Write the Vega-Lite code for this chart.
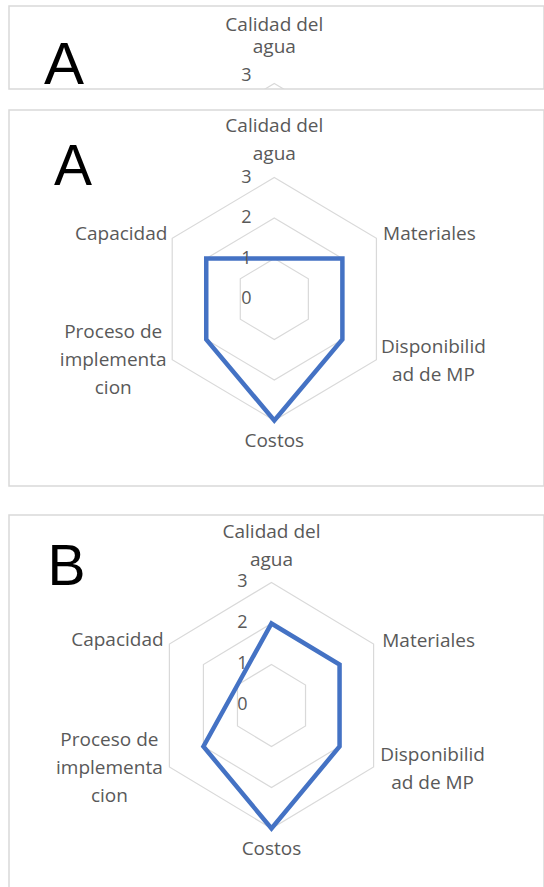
{
  "$schema": "https://vega.github.io/schema/vega-lite/v6.json",
  "padding": {"left": 8, "top": 5, "right": 0, "bottom": 0},
  "background": "white",
  "config": {
    "view": {"stroke": "#d9d9d9", "strokeWidth": 1.5},
    "text": {"font": "Open Sans", "fontSize": 19, "color": "#595959", "align": "center", "baseline": "middle", "lineHeight": 28, "lineBreak": "\n"}
  },
  "datasets": {
    "A": [
      {"orden": 0, "criterio": "Calidad del\nagua", "valor": 1},
      {"orden": 1, "criterio": "Materiales", "valor": 2},
      {"orden": 2, "criterio": "Disponibilid\nad de MP", "valor": 2},
      {"orden": 3, "criterio": "Costos", "valor": 3},
      {"orden": 4, "criterio": "Proceso de\nimplementa\ncion", "valor": 2},
      {"orden": 5, "criterio": "Capacidad", "valor": 2}
    ],
    "B": [
      {"orden": 0, "criterio": "Calidad del\nagua", "valor": 2},
      {"orden": 1, "criterio": "Materiales", "valor": 2},
      {"orden": 2, "criterio": "Disponibilid\nad de MP", "valor": 2},
      {"orden": 3, "criterio": "Costos", "valor": 3},
      {"orden": 4, "criterio": "Proceso de\nimplementa\ncion", "valor": 2},
      {"orden": 5, "criterio": "Capacidad", "valor": 1}
    ],
    "niveles": [
      {"nivel": 0, "orden": [0, 1, 2, 3, 4, 5]},
      {"nivel": 1, "orden": [0, 1, 2, 3, 4, 5]},
      {"nivel": 2, "orden": [0, 1, 2, 3, 4, 5]},
      {"nivel": 3, "orden": [0, 1, 2, 3, 4, 5]}
    ]
  },
  "spacing": 12,
  "vconcat": [
    {
      "width": 535,
      "height": 83,
      "encoding": {
        "x": {"field": "px", "type": "quantitative", "scale": {"domain": [-6.751, 6.862], "nice": false, "zero": false}, "axis": null},
        "y": {"field": "py", "type": "quantitative", "scale": {"domain": [2.864, 4.914], "nice": false, "zero": false}, "axis": null}
      },
      "layer": [
        {
          "data": {"name": "niveles"},
          "transform": [
            {"flatten": ["orden"]},
            {"filter": "datum.nivel > 0"},
            {"calculate": "datum.nivel*sin(datum.orden*PI/3)", "as": "px"},
            {"calculate": "datum.nivel*cos(datum.orden*PI/3)", "as": "py"}
          ],
          "mark": {"type": "line", "interpolate": "linear-closed", "stroke": "#d9d9d9", "strokeWidth": 1.2, "clip": true},
          "encoding": {"detail": {"field": "nivel"}, "order": {"field": "orden"}}
        },
        {
          "data": {"name": "niveles"},
          "transform": [
            {"flatten": ["orden"]},
            {"filter": "datum.orden == 0 && datum.nivel == 3"},
            {"calculate": "datum.nivel*sin(datum.orden*PI/3)", "as": "px"},
            {"calculate": "datum.nivel*cos(datum.orden*PI/3)", "as": "py"}
          ],
          "mark": {"type": "text", "dx": -28, "dy": -7, "fontSize": 18},
          "encoding": {"text": {"field": "nivel", "type": "quantitative", "format": "d"}}
        },
        {
          "data": {"name": "A"},
          "transform": [
            {"filter": "datum.orden == 0"},
            {"calculate": "3*sin(datum.orden*PI/3)", "as": "px"},
            {"calculate": "3*cos(datum.orden*PI/3)", "as": "py"}
          ],
          "mark": {"type": "text", "dy": -58, "lineHeight": 22},
          "encoding": {"text": {"field": "criterio"}}
        },
        {
          "data": {"values": [{"panel": "A"}]},
          "transform": [{"calculate": "-5.86", "as": "px"}, {"calculate": "2.99", "as": "py"}],
          "mark": {"type": "text", "font": "Liberation Sans", "fontSize": 60, "color": "#000000", "align": "left", "baseline": "alphabetic"},
          "encoding": {"text": {"field": "panel"}}
        }
      ]
    },
    {
      "spacing": 27,
      "vconcat": [
        {
          "width": 535,
          "height": 376,
          "encoding": {
            "x": {"field": "px", "type": "quantitative", "scale": {"domain": [-6.751, 6.862], "nice": false, "zero": false}, "axis": null},
            "y": {"field": "py", "type": "quantitative", "scale": {"domain": [-4.617, 4.667], "nice": false, "zero": false}, "axis": null}
          },
          "layer": [
            {
              "data": {"name": "niveles"},
              "transform": [
                {"flatten": ["orden"]},
                {"filter": "datum.nivel > 0"},
                {"calculate": "datum.nivel*sin(datum.orden*PI/3)", "as": "px"},
                {"calculate": "datum.nivel*cos(datum.orden*PI/3)", "as": "py"}
              ],
              "mark": {"type": "line", "interpolate": "linear-closed", "stroke": "#d9d9d9", "strokeWidth": 1.2},
              "encoding": {"detail": {"field": "nivel"}, "order": {"field": "orden"}}
            },
            {
              "data": {"name": "A"},
              "transform": [
                {"calculate": "datum.valor*sin(datum.orden*PI/3)", "as": "px"},
                {"calculate": "datum.valor*cos(datum.orden*PI/3)", "as": "py"}
              ],
              "mark": {"type": "line", "interpolate": "linear-closed", "stroke": "#4472C4", "strokeWidth": 4.5, "strokeJoin": "miter"},
              "encoding": {"order": {"field": "orden"}}
            },
            {
              "data": {"name": "niveles"},
              "transform": [
                {"flatten": ["orden"]},
                {"filter": "datum.orden == 0"},
                {"calculate": "datum.nivel*sin(datum.orden*PI/3)", "as": "px"},
                {"calculate": "datum.nivel*cos(datum.orden*PI/3)", "as": "py"}
              ],
              "mark": {"type": "text", "dx": -28, "fontSize": 18},
              "encoding": {"text": {"field": "nivel", "type": "quantitative", "format": "d"}}
            },
            {
              "data": {"name": "A"},
              "transform": [{"filter": "datum.orden == 0"}, {"calculate": "3*sin(datum.orden*PI/3)", "as": "px"}, {"calculate": "3*cos(datum.orden*PI/3)", "as": "py"}],
              "mark": {"type": "text", "dy": -51.5},
              "encoding": {"text": {"field": "criterio"}}
            },
            {
              "data": {"name": "A"},
              "transform": [{"filter": "datum.orden == 1"}, {"calculate": "3*sin(datum.orden*PI/3)", "as": "px"}, {"calculate": "3*cos(datum.orden*PI/3)", "as": "py"}],
              "mark": {"type": "text", "dx": 53, "dy": -4},
              "encoding": {"text": {"field": "criterio"}}
            },
            {
              "data": {"name": "A"},
              "transform": [{"filter": "datum.orden == 2"}, {"calculate": "3*sin(datum.orden*PI/3)", "as": "px"}, {"calculate": "3*cos(datum.orden*PI/3)", "as": "py"}],
              "mark": {"type": "text", "dx": 57, "dy": -13},
              "encoding": {"text": {"field": "criterio"}}
            },
            {
              "data": {"name": "A"},
              "transform": [{"filter": "datum.orden == 3"}, {"calculate": "3*sin(datum.orden*PI/3)", "as": "px"}, {"calculate": "3*cos(datum.orden*PI/3)", "as": "py"}],
              "mark": {"type": "text", "dy": 20},
              "encoding": {"text": {"field": "criterio"}}
            },
            {
              "data": {"name": "A"},
              "transform": [{"filter": "datum.orden == 4"}, {"calculate": "3*sin(datum.orden*PI/3)", "as": "px"}, {"calculate": "3*cos(datum.orden*PI/3)", "as": "py"}],
              "mark": {"type": "text", "dx": -59, "dy": -27.5},
              "encoding": {"text": {"field": "criterio"}}
            },
            {
              "data": {"name": "A"},
              "transform": [{"filter": "datum.orden == 5"}, {"calculate": "3*sin(datum.orden*PI/3)", "as": "px"}, {"calculate": "3*cos(datum.orden*PI/3)", "as": "py"}],
              "mark": {"type": "text", "dx": -51, "dy": -4},
              "encoding": {"text": {"field": "criterio"}}
            },
            {
              "data": {"values": [{"panel": "A"}]},
              "transform": [{"calculate": "-5.606", "as": "px"}, {"calculate": "2.815", "as": "py"}],
              "mark": {"type": "text", "font": "Liberation Sans", "fontSize": 57, "color": "#000000", "align": "left", "baseline": "alphabetic"},
              "encoding": {"text": {"field": "panel"}}
            }
          ]
        },
        {
          "width": 535,
          "height": 377,
          "encoding": {
            "x": {"field": "px", "type": "quantitative", "scale": {"domain": [-6.679, 6.934], "nice": false, "zero": false}, "axis": null},
            "y": {"field": "py", "type": "quantitative", "scale": {"domain": [-4.549, 4.646], "nice": false, "zero": false}, "axis": null}
          },
          "layer": [
            {
              "data": {"name": "niveles"},
              "transform": [
                {"flatten": ["orden"]},
                {"filter": "datum.nivel > 0"},
                {"calculate": "datum.nivel*sin(datum.orden*PI/3)", "as": "px"},
                {"calculate": "datum.nivel*cos(datum.orden*PI/3)", "as": "py"}
              ],
              "mark": {"type": "line", "interpolate": "linear-closed", "stroke": "#d9d9d9", "strokeWidth": 1.2},
              "encoding": {"detail": {"field": "nivel"}, "order": {"field": "orden"}}
            },
            {
              "data": {"name": "B"},
              "transform": [
                {"calculate": "datum.valor*sin(datum.orden*PI/3)", "as": "px"},
                {"calculate": "datum.valor*cos(datum.orden*PI/3)", "as": "py"}
              ],
              "mark": {"type": "line", "interpolate": "linear-closed", "stroke": "#4472C4", "strokeWidth": 4.5, "strokeJoin": "miter"},
              "encoding": {"order": {"field": "orden"}}
            },
            {
              "data": {"name": "niveles"},
              "transform": [
                {"flatten": ["orden"]},
                {"filter": "datum.orden == 0"},
                {"calculate": "datum.nivel*sin(datum.orden*PI/3)", "as": "px"},
                {"calculate": "datum.nivel*cos(datum.orden*PI/3)", "as": "py"}
              ],
              "mark": {"type": "text", "dx": -29, "fontSize": 18},
              "encoding": {"text": {"field": "nivel", "type": "quantitative", "format": "d"}}
            },
            {
              "data": {"name": "B"},
              "transform": [{"filter": "datum.orden == 0"}, {"calculate": "3*sin(datum.orden*PI/3)", "as": "px"}, {"calculate": "3*cos(datum.orden*PI/3)", "as": "py"}],
              "mark": {"type": "text", "dy": -50},
              "encoding": {"text": {"field": "criterio"}}
            },
            {
              "data": {"name": "B"},
              "transform": [{"filter": "datum.orden == 1"}, {"calculate": "3*sin(datum.orden*PI/3)", "as": "px"}, {"calculate": "3*cos(datum.orden*PI/3)", "as": "py"}],
              "mark": {"type": "text", "dx": 55, "dy": -3},
              "encoding": {"text": {"field": "criterio"}}
            },
            {
              "data": {"name": "B"},
              "transform": [{"filter": "datum.orden == 2"}, {"calculate": "3*sin(datum.orden*PI/3)", "as": "px"}, {"calculate": "3*cos(datum.orden*PI/3)", "as": "py"}],
              "mark": {"type": "text", "dx": 59, "dy": -12},
              "encoding": {"text": {"field": "criterio"}}
            },
            {
              "data": {"name": "B"},
              "transform": [{"filter": "datum.orden == 3"}, {"calculate": "3*sin(datum.orden*PI/3)", "as": "px"}, {"calculate": "3*cos(datum.orden*PI/3)", "as": "py"}],
              "mark": {"type": "text", "dy": 21},
              "encoding": {"text": {"field": "criterio"}}
            },
            {
              "data": {"name": "B"},
              "transform": [{"filter": "datum.orden == 4"}, {"calculate": "3*sin(datum.orden*PI/3)", "as": "px"}, {"calculate": "3*cos(datum.orden*PI/3)", "as": "py"}],
              "mark": {"type": "text", "dx": -60, "dy": -27},
              "encoding": {"text": {"field": "criterio"}}
            },
            {
              "data": {"name": "B"},
              "transform": [{"filter": "datum.orden == 5"}, {"calculate": "3*sin(datum.orden*PI/3)", "as": "px"}, {"calculate": "3*cos(datum.orden*PI/3)", "as": "py"}],
              "mark": {"type": "text", "dx": -52, "dy": -4},
              "encoding": {"text": {"field": "criterio"}}
            },
            {
              "data": {"values": [{"panel": "B"}]},
              "transform": [{"calculate": "-5.7", "as": "px"}, {"calculate": "2.939", "as": "py"}],
              "mark": {"type": "text", "font": "Liberation Sans", "fontSize": 57, "color": "#000000", "align": "left", "baseline": "alphabetic"},
              "encoding": {"text": {"field": "panel"}}
            }
          ]
        }
      ]
    }
  ]
}
